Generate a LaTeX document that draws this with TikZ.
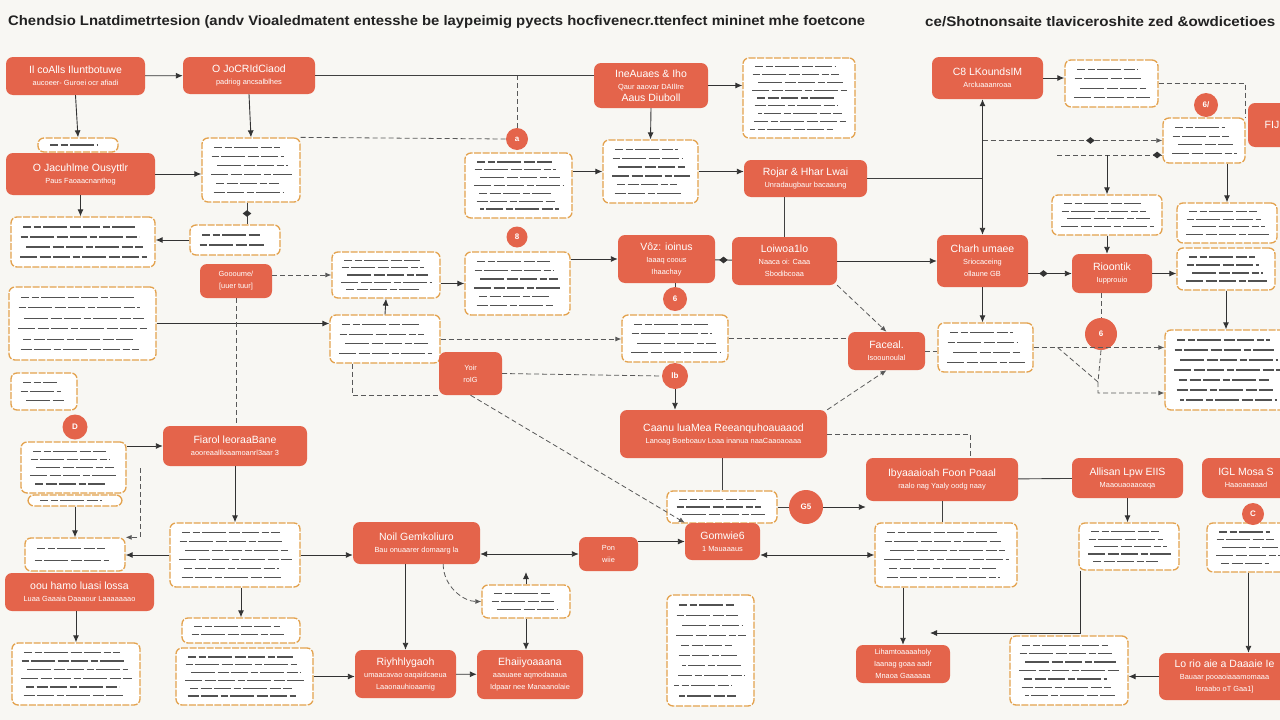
\documentclass[tikz,border=0pt]{standalone}
\usepackage{fontspec}
\setmainfont{Liberation Sans}
\usepackage{graphicx}
\usetikzlibrary{arrows.meta,shapes.geometric,calc}
\definecolor{bg}{HTML}{F8F7F3}
\definecolor{org}{HTML}{E4644B}
\definecolor{brd}{HTML}{E3A24E}
\definecolor{ink}{HTML}{222222}
\newcommand\Ha{\fontsize{10.5}{12}\selectfont}
\newcommand\Hb{\fontsize{7.4}{9}\selectfont}
\tikzset{
 obx/.style={rectangle, rounded corners=7pt, fill=org, text=white, align=center, inner sep=2pt},
 dbx/.style={rectangle, rounded corners=6pt, fill=white, draw=brd, line width=1.3pt, dash pattern=on 7pt off 1.5pt, inner sep=0pt},
 tln/.style={draw=black!68, line width=1.2pt, dash pattern=on 17pt off 2.5pt on 7pt off 2.5pt on 24pt off 2.5pt on 11pt off 2.5pt},
 circ/.style={circle, fill=org, text=white, inner sep=0pt, font=\bfseries\fontsize{8}{9}\selectfont},
 arr/.style={draw=black!80, line width=0.9pt, -{Latex[length=7pt,width=6pt]}},
 dar/.style={draw=black!80, line width=0.9pt, {Latex[length=7pt,width=6pt]}-{Latex[length=7pt,width=6pt]}},
 ln/.style={draw=black!75, line width=0.9pt},
 dsh/.style={draw=black!65, line width=0.8pt, dash pattern=on 5pt off 3pt},
 dsa/.style={dsh, -{Latex[length=6pt,width=5pt]}},
 dm/.style={diamond, fill=black!80, inner sep=0pt, minimum width=9pt, minimum height=7pt},
}
\newcommand\obox[6]{\node[obx, minimum width={#4-#2}, minimum height={#5-#3}] (#1) at ({(#2+#4)/2},{(#3+#5)/2}) {#6};}
\newcommand\dbox[6]{%
 \node[dbx, minimum width={#4-#2}, minimum height={#5-#3}] (#1) at ({(#2+#4)/2},{(#3+#5)/2}) {};
 \pgfmathsetmacro\dstep{(#5-#3-10)/#6}%
 \foreach \k in {1,...,#6}{%
  \pgfmathsetmacro\yy{#3+5+(\k-0.5)*\dstep}%
  \pgfmathsetmacro\xa{#2+7+mod(\k*5,9)}%
  \pgfmathsetmacro\xb{#4-7-mod(\k*13,17)}%
  \pgfmathsetmacro\ph{\k*9}%
  \draw[tln, dash phase=\ph pt] (\xa,\yy) -- (\xb,\yy);
 }}
\begin{document}
\begin{tikzpicture}[x=1pt,y=-1pt]
\useasboundingbox (0,0) rectangle (1280,720);
\fill[bg] (0,0) rectangle (1280,720);
\clip (0,0) rectangle (1280,720);

\node[anchor=west, inner sep=0pt, text=ink] (t1) at (8,22) {\resizebox{857pt}{10pt}{\bfseries Chendsio Lnatdimetrtesion (andv Vioaledmatent entesshe be laypeimig pyects hocfivenecr.ttenfect mininet mhe foetcone}};
\node[anchor=west, inner sep=0pt, text=ink] (t2) at (925,22) {\resizebox{350pt}{10pt}{\bfseries ce/Shotnonsaite tlaviceroshite zed \&owdicetioes}};

% dashed text boxes
\dbox{D0}{38}{138}{118}{152}{1}
\dbox{D1}{202}{138}{300}{202}{6}
\dbox{D2}{190}{225}{280}{255}{2}
\dbox{D3}{11}{217}{155}{267}{4}
\dbox{D4}{9}{287}{156}{360}{6}
\dbox{D5}{11}{373}{77}{410}{3}
\dbox{D6}{332}{252}{440}{298}{5}
\dbox{D7}{330}{315}{440}{363}{4}
\dbox{D8}{465}{153}{572}{218}{7}
\dbox{D9}{465}{252}{570}{315}{6}
\dbox{D10}{603}{140}{698}{203}{6}
\dbox{D11}{743}{58}{855}{138}{9}
\dbox{D12}{622}{315}{728}{362}{4}
\dbox{D13}{938}{323}{1033}{372}{4}
\dbox{D14}{1065}{60}{1158}{107}{4}
\dbox{D15}{1163}{118}{1245}{163}{4}
\dbox{D16}{1052}{195}{1162}{235}{4}
\dbox{D17}{1177}{203}{1277}{243}{4}
\dbox{D18}{1177}{248}{1275}{290}{4}
\dbox{D19}{1165}{330}{1290}{410}{7}
\dbox{D20}{21}{442}{126}{493}{5}
\dbox{D21}{28}{495}{122}{506}{1}
\dbox{D22}{25}{538}{125}{571}{2}
\dbox{D23}{170}{523}{300}{587}{6}
\dbox{D24}{182}{618}{300}{643}{2}
\dbox{D25}{176}{648}{313}{705}{6}
\dbox{D26}{12}{643}{140}{705}{6}
\dbox{D27}{482}{585}{570}{618}{3}
\dbox{D28}{667}{491}{777}{523}{3}
\dbox{D29}{667}{595}{754}{706}{10}
\dbox{D30}{875}{523}{1017}{587}{6}
\dbox{D31}{1079}{523}{1179}{570}{5}
\dbox{D32}{1207}{523}{1290}{572}{5}
\dbox{D33}{1010}{636}{1128}{705}{7}

% filled boxes
\obox{A1}{6}{57}{145}{95}{{\Ha Il coAlls Iluntbotuwe}\\{\Hb aucoeer- Guroei ocr afiadi}}
\obox{A2}{183}{57}{315}{94}{{\Ha O JoCRIdCiaod}\\{\Hb padriog ancsalblhes}}
\obox{A3}{594}{63}{708}{108}{{\Ha IneAuaes \& Iho}\\{\Hb Qaur aaovar DAIlIre}\\{\Ha Aaus Diuboll}}
\obox{A4}{744}{160}{867}{197}{{\Ha Rojar \& Hhar Lwai}\\{\Hb Unradaugbaur bacaaung}}
\obox{A5}{6}{153}{155}{195}{{\Ha O Jacuhlme Ousyttlr}\\{\Hb Paus Faoaacnanthog}}
\obox{A6}{200}{264}{272}{298}{{\Hb Goooume/}\\{\Hb [uuer tuur]}}
\obox{A7}{618}{235}{715}{283}{{\Ha Vôz: ioinus}\\{\Hb Iaaaq coous}\\{\Hb Ihaachay}}
\obox{A8}{732}{237}{837}{285}{{\Ha Loiwoa1lo}\\{\Hb Naaca oi: Caaa}\\{\Hb Sbodibcoaa}}
\obox{A9}{937}{235}{1028}{287}{{\Ha Charh umaee}\\{\Hb Sriocaceing}\\{\Hb ollaune GB}}
\obox{A10}{1072}{254}{1152}{293}{{\Ha Rioontik}\\{\Hb Iupprouio}}
\obox{A11}{932}{57}{1043}{99}{{\Ha C8 LKoundsIM}\\{\Hb Arcluaaanroaa}}
\obox{A12}{1248}{103}{1296}{147}{{\Ha FIJ}}
\obox{A13}{848}{332}{925}{370}{{\Ha Faceal.}\\{\Hb Isoounoulal}}
\obox{A14}{439}{352}{502}{395}{{\Hb Yoir}\\{\Hb roIG}}
\obox{A15}{620}{410}{827}{458}{{\Ha Caanu luaMea Reeanquhoauaaod}\\{\Hb Lanoag Boeboauv Loaa inanua naaCaaoaoaaa}}
\obox{A16}{163}{426}{307}{466}{{\Ha Fiarol leoraaBane}\\{\Hb aooreaallloaamoanrl3aar 3}}
\obox{A17}{5}{573}{154}{611}{{\Ha oou hamo luasi lossa}\\{\Hb Luaa Gaaaia Daaaour Laaaaaaao}}
\obox{A18}{353}{522}{480}{564}{{\Ha Noil Gemkoliuro}\\{\Hb Bau onuaarer domaarg la}}
\obox{A19}{579}{537}{638}{571}{{\Hb Pon}\\{\Hb wiie}}
\obox{A20}{685}{523}{760}{560}{{\Ha Gomwie6}\\{\Hb 1 Mauaaaus}}
\obox{A21}{866}{458}{1018}{501}{{\Ha Ibyaaaioah Foon Poaal}\\{\Hb raalo nag Yaaly oodg naay}}
\obox{A22}{1072}{458}{1183}{498}{{\Ha Allisan Lpw EIIS}\\{\Hb Maaouaoaaoaqa}}
\obox{A23}{1202}{458}{1290}{498}{{\Ha IGL Mosa S}\\{\Hb Haaoaeaaad}}
\obox{A24}{355}{650}{456}{698}{{\Ha Riyhhlygaoh}\\{\Hb umaacavao oaqaidcaeua}\\{\Hb Laaonauhioaamig}}
\obox{A25}{477}{650}{583}{699}{{\Ha Ehaiiyoaaana}\\{\Hb aaauaee aqmodaaaua}\\{\Hb Idpaar nee Manaanolaie}}
\obox{A26}{856}{645}{950}{683}{{\Hb Lihamtoaaaaholy}\\{\Hb Iaanag goaa aadr}\\{\Hb Mnaoa Gaaaaaa}}
\obox{A27}{1159}{653}{1290}{700}{{\Ha Lo rio aie a Daaaie Ie}\\{\Hb Bauaar pooaoiaaamomaaa}\\{\Hb Ioraabo oT Gaa1]}}

% circles
\node[circ, minimum size=22pt] (c1) at (517,139) {a};
\node[circ, minimum size=21pt] (c2) at (517,237) {8};
\node[circ, minimum size=24pt] (c3) at (675,299) {6};
\node[circ, minimum size=26pt] (c4) at (675,376) {lb};
\node[circ, minimum size=25pt] (c5) at (75,427) {D};
\node[circ, minimum size=24pt] (c6) at (1206,105) {6/};
\node[circ, minimum size=32pt] (c7) at (1101,334) {6};
\node[circ, minimum size=34pt] (c8) at (806,507) {G5};
\node[circ, minimum size=22pt] (c9) at (1253,514) {C};

% connectors
\draw[arr] (A1) -- (A2);
\draw[arr] (A1.south) -- (D0.north);
\draw[arr] (A2.south) -- (D1.north);
\draw[arr] (A5.east) -- (A5.east -| D1.west);
\draw[arr] (A5.south) -- (A5.south |- D3.north);
\draw[ln] ($(D1.south)+(-4,0)$) -- node[dm]{} ($(D1.south |- D2.north)+(-4,0)$);
\draw[arr] (D2.west) -- (D2.west -| D3.east);
\draw[arr] (D4.east) -- (D4.east -| D7.west);
\draw[dsh] (A6.south) -- (A6.south |- A16.north);
\draw[dsa] (A6.east |- D6.west) -- (D6.west);
\draw[arr] (D7.north) -- (D6.south);
\draw[arr] (D6.east |- D9.west) -- (D9.west);
\draw[arr] (D9.east |- A7.west) -- (A7.west);
\draw[ln] (A7) -- node[dm]{} (A8);
\draw[ln] (A4.south -| A8.north) -- (A8.north);
\draw[arr] (A8) -- (A9);
\draw[arr] (A3.south) -- (D10.north);
\draw[arr] (A3.east) -- (A3.east -| D11.west);
\draw[arr] (D10.west -| D8.east) -- (D10.west);
\draw[arr] (D10.east) -- (D10.east -| A4.west);
\draw[ln] (A2.east) -- (A2.east -| A3.west);
\draw[dsh] (c1.north) -- (c1.north |- A2.east);
\draw[dsh] (D1.north east) -- (c1.west);
\draw[ln] (A4.east) -- (A4.east -| A9.north);
\draw[dar] (A9.north |- A11.south) -- (A9.north);
\draw[dsa] (A9.north |- D15.west) -- node[pos=0.6, dm]{} (D15.west);
\draw[arr] (A11.east) -- (A11.east -| D14.west);
\draw[dsh] (D14.east) -| (D15.north east);
\coordinate (k1) at (1057,155);
\draw[dsh] (k1) -- node[pos=0.95, dm]{} (k1 -| D15.west);
\draw[arr] (D16.north |- k1) -- (D16.north);
\draw[arr] (D17.north |- D15.south) -- (D17.north);
\draw[arr] (D16.south) -- (D16.south |- A10.north);
\draw[arr] (A9.east |- A10.west) -- node[pos=0.35, dm]{} (A10.west);
\draw[arr] (A10.east) -- (A10.east -| D18.west);
\draw[arr] (A9.south) -- (A9.south |- D13.north);
\draw[dsh] (c7.north |- A10.south) -- (c7.north);
\draw[arr] (D18.south) -- (D18.south |- D19.north);
\draw[dsa] (D13.east) -- (D13.east -| D19.west);
\coordinate (q1) at (1098,382);
\draw[dsh] ($(D13.east)+(24,0)$) -- (q1);
\draw[dsa] (c7.south) -- (q1) |- ($(D19.west)+(0,23)$);
\draw[dsa] (A8.south east) -- (A13.north);
\draw[dsh] (D12.east) -- (D12.east -| A13.west);
\draw[dsh] (A13.east) -- (A13.east -| D13.west);
\draw[dsa] (A15.north east) -- (A13.south);
\draw[ln] (c3.north |- A7.south) -- (c3.north);
\draw[dsh] (A14.east) -- (c4.west);
\draw[dsh] ($(D7.south west)+(23,0)$) |- (A14.south west);
\draw[dsa] (D7.east) -- (D7.east -| D12.west);
\draw[arr] (c4.south) -- (c4.south |- A15.north);
\draw[ln] (A15.south -| D28.north) -- (D28.north);
\draw[ln] (D28) -- (c8);
\draw[arr] (c8.east) -- (c8.east -| A21.west);
\draw[dsh] (A15.east) -| ($(A21.north)+(28,0)$);
\draw[dsa] (A14.south) -- (A20.north west);
\draw[arr] (A19.east |- A20.west) -- (A20.west);
\draw[dar] (A18.east |- A19.west) -- (A19.west);
\draw[arr] (D23.east) -- (D23.east -| A18.west);
\draw[arr] (A24.north |- A18.south) -- (A24.north);
\draw[dsa] ($(A18.south east)+(-37,0)$) .. controls +(0,22) and +(-18,0) .. (D27.west);
\draw[arr] (D27.north) -- ($(D27.north |- A19.west)+(0,18)$);
\draw[arr] (D27.south) -- (D27.south |- A25.north);
\draw[arr] (D25.east) -- (D25.east -| A24.west);
\draw[arr] (A24) -- (A25);
\draw[arr] (A16.south) -- (A16.south |- D23.north);
\draw[arr] (A16.west -| D20.east) -- (A16.west);
\draw[arr] (D21.south) -- (D21.south |- D22.north);
\draw[arr] (D23.west) -- (D23.west -| D22.east);
\coordinate (m1) at (140,468);
\draw[dsa] (m1) |- (D22.north east);
\draw[arr] (D26.north |- A17.south) -- (D26.north);
\draw[arr] (D24.north |- D23.south) -- (D24.north);
\draw[arr] (A26.north |- D30.south) -- (A26.north);
\draw[ln] (A21.south) -- (A21.south |- D30.north);
\draw[ln] (A21) -- (A22);
\draw[arr] (A22.south) -- (A22.south |- D31.north);
\draw[dar] (A20.east |- D30.west) -- (D30.west);
\draw[arr] (D32.south) -- (D32.south |- A27.north);
\draw[arr] (A27.west) -- (A27.west -| D33.east);
\coordinate (q2) at (930,633);
\draw[arr] ($(D31.south west)+(2,0)$) |- (q2);
\end{tikzpicture}
\end{document}
